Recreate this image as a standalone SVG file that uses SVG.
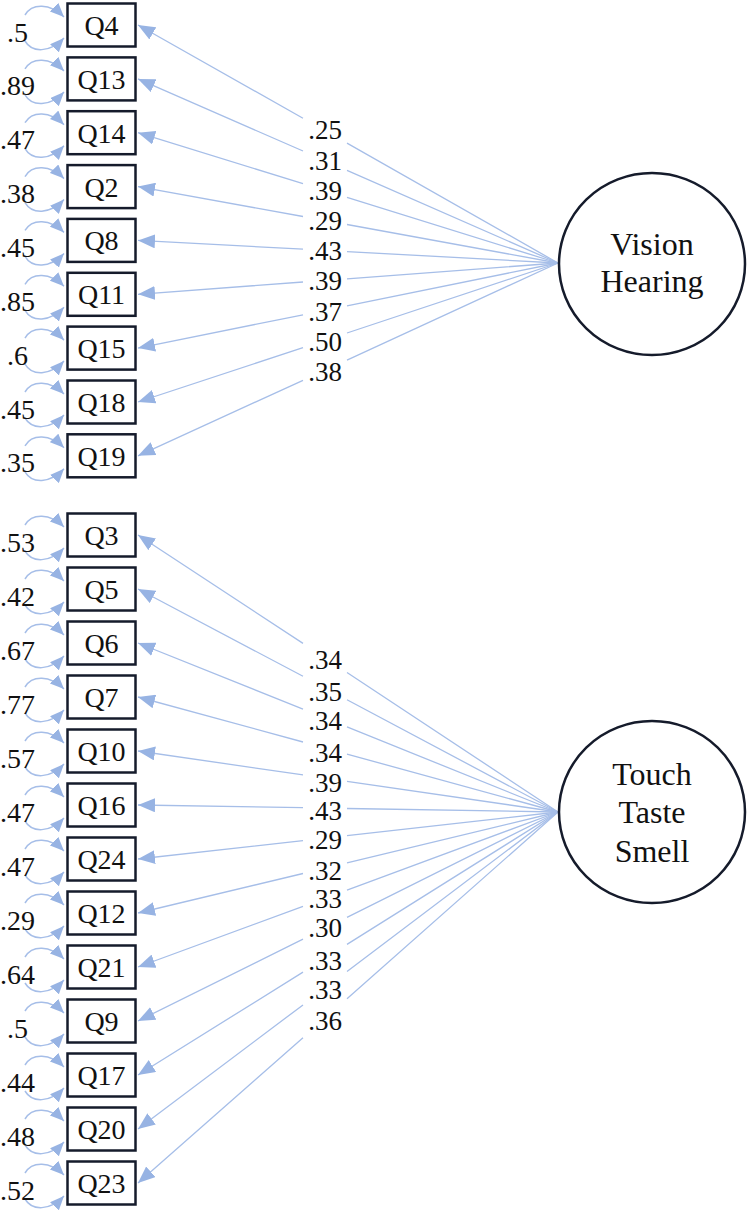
<svg xmlns="http://www.w3.org/2000/svg" width="748" height="1212" viewBox="0 0 748 1212">
<defs>
<marker id="ah" viewBox="0 0 17 14" refX="17" refY="7" markerWidth="17" markerHeight="14" markerUnits="userSpaceOnUse" orient="auto">
<path d="M0,0 L17,7 L0,14 z" fill="#97b3e3"/>
</marker>
<marker id="ahs" viewBox="0 0 14 12" refX="14" refY="6" markerWidth="14" markerHeight="12" markerUnits="userSpaceOnUse" orient="auto">
<path d="M0,0 L14,6 L0,12 z" fill="#97b3e3"/>
</marker>
</defs>
<style>
.box{fill:#fff;stroke:#151b2b;stroke-width:2.5}
.lat{fill:#fff;stroke:#151b2b;stroke-width:2.5}
text{font-family:'Liberation Serif','Times New Roman','DejaVu Serif',serif;fill:#111;text-anchor:middle}
.t{font-size:28px}
.tv{font-size:27px}
.tl{font-size:32px}
.ld{fill:none;stroke:#a6bee8;stroke-width:1.3;marker-end:url(#ah)}
.arc{fill:none;stroke:#a6bee8;stroke-width:1.5;marker-end:url(#ahs)}
</style>
<rect width="748" height="1212" fill="#fff"/>

<g id="connectors">
<path class="ld" d="M558,263 L347,143.1 M303,118.2 L138,25"/>
<path class="ld" d="M558,263 L347,170.3 M303,151 L138,78.9"/>
<path class="ld" d="M558,263 L347,197.4 M303,183.7 L138,132.7"/>
<path class="ld" d="M558,263 L347,224.5 M303,216.5 L138,186.6"/>
<path class="ld" d="M558,263 L347,251.6 M303,249.2 L138,240.4"/>
<path class="ld" d="M558,263 L347,278.8 M303,282 L138,294.3"/>
<path class="ld" d="M558,263 L347,305.9 M303,314.8 L138,348.1"/>
<path class="ld" d="M558,263 L347,333 M303,347.6 L138,402"/>
<path class="ld" d="M558,263 L347,360.1 M303,380.3 L138,455.8"/>
<path class="ld" d="M558,812 L347,672.5 M303,643.4 L138,535"/>
<path class="ld" d="M558,812 L347,699.7 M303,676.3 L138,589"/>
<path class="ld" d="M558,812 L347,726.9 M303,709.1 L138,643"/>
<path class="ld" d="M558,812 L347,754.1 M303,742 L138,697"/>
<path class="ld" d="M558,812 L347,781.3 M303,774.9 L138,751"/>
<path class="ld" d="M558,812 L347,808.5 M303,807.7 L138,805"/>
<path class="ld" d="M558,812 L347,835.7 M303,840.6 L138,859"/>
<path class="ld" d="M558,812 L347,862.9 M303,873.5 L138,913"/>
<path class="ld" d="M558,812 L347,890.1 M303,906.3 L138,967"/>
<path class="ld" d="M558,812 L347,917.3 M303,939.2 L138,1021"/>
<path class="ld" d="M558,812 L347,944.4 M303,972.1 L138,1075"/>
<path class="ld" d="M558,812 L347,971.6 M303,1004.9 L138,1129"/>
<path class="ld" d="M558,812 L347,998.8 M303,1037.8 L138,1183"/>
<path class="arc" d="M25,15 C32,3 50,3 64,17"/><path class="arc" d="M25,41 C32,53 50,53 64,38"/>
<path class="arc" d="M25,68.9 C32,56.9 50,56.9 64,70.9"/><path class="arc" d="M25,94.9 C32,106.9 50,106.9 64,91.9"/>
<path class="arc" d="M25,122.7 C32,110.7 50,110.7 64,124.7"/><path class="arc" d="M25,148.7 C32,160.7 50,160.7 64,145.7"/>
<path class="arc" d="M25,176.6 C32,164.6 50,164.6 64,178.6"/><path class="arc" d="M25,202.6 C32,214.6 50,214.6 64,199.6"/>
<path class="arc" d="M25,230.4 C32,218.4 50,218.4 64,232.4"/><path class="arc" d="M25,256.4 C32,268.4 50,268.4 64,253.4"/>
<path class="arc" d="M25,284.3 C32,272.3 50,272.3 64,286.3"/><path class="arc" d="M25,310.3 C32,322.3 50,322.3 64,307.3"/>
<path class="arc" d="M25,338.1 C32,326.1 50,326.1 64,340.1"/><path class="arc" d="M25,364.1 C32,376.1 50,376.1 64,361.1"/>
<path class="arc" d="M25,392 C32,380 50,380 64,394"/><path class="arc" d="M25,418 C32,430 50,430 64,415"/>
<path class="arc" d="M25,445.8 C32,433.8 50,433.8 64,447.8"/><path class="arc" d="M25,471.8 C32,483.8 50,483.8 64,468.8"/>
<path class="arc" d="M25,525 C32,513 50,513 64,527"/><path class="arc" d="M25,551 C32,563 50,563 64,548"/>
<path class="arc" d="M25,579 C32,567 50,567 64,581"/><path class="arc" d="M25,605 C32,617 50,617 64,602"/>
<path class="arc" d="M25,633 C32,621 50,621 64,635"/><path class="arc" d="M25,659 C32,671 50,671 64,656"/>
<path class="arc" d="M25,687 C32,675 50,675 64,689"/><path class="arc" d="M25,713 C32,725 50,725 64,710"/>
<path class="arc" d="M25,741 C32,729 50,729 64,743"/><path class="arc" d="M25,767 C32,779 50,779 64,764"/>
<path class="arc" d="M25,795 C32,783 50,783 64,797"/><path class="arc" d="M25,821 C32,833 50,833 64,818"/>
<path class="arc" d="M25,849 C32,837 50,837 64,851"/><path class="arc" d="M25,875 C32,887 50,887 64,872"/>
<path class="arc" d="M25,903 C32,891 50,891 64,905"/><path class="arc" d="M25,929 C32,941 50,941 64,926"/>
<path class="arc" d="M25,957 C32,945 50,945 64,959"/><path class="arc" d="M25,983 C32,995 50,995 64,980"/>
<path class="arc" d="M25,1011 C32,999 50,999 64,1013"/><path class="arc" d="M25,1037 C32,1049 50,1049 64,1034"/>
<path class="arc" d="M25,1065 C32,1053 50,1053 64,1067"/><path class="arc" d="M25,1091 C32,1103 50,1103 64,1088"/>
<path class="arc" d="M25,1119 C32,1107 50,1107 64,1121"/><path class="arc" d="M25,1145 C32,1157 50,1157 64,1142"/>
<path class="arc" d="M25,1173 C32,1161 50,1161 64,1175"/><path class="arc" d="M25,1199 C32,1211 50,1211 64,1196"/>
</g>

<g id="loading-labels">
<text class="tv" x="325" y="139">.25</text>
<text class="tv" x="325" y="170">.31</text>
<text class="tv" x="325" y="200">.39</text>
<text class="tv" x="325" y="230">.29</text>
<text class="tv" x="325" y="260">.43</text>
<text class="tv" x="325" y="290">.39</text>
<text class="tv" x="325" y="321">.37</text>
<text class="tv" x="325" y="351">.50</text>
<text class="tv" x="325" y="381">.38</text>
<text class="tv" x="325" y="669">.34</text>
<text class="tv" x="325" y="701">.35</text>
<text class="tv" x="325" y="730">.34</text>
<text class="tv" x="325" y="762">.34</text>
<text class="tv" x="325" y="792">.39</text>
<text class="tv" x="325" y="820">.43</text>
<text class="tv" x="325" y="849">.29</text>
<text class="tv" x="325" y="880">.32</text>
<text class="tv" x="325" y="908">.33</text>
<text class="tv" x="325" y="937">.30</text>
<text class="tv" x="325" y="970">.33</text>
<text class="tv" x="325" y="999">.33</text>
<text class="tv" x="325" y="1030">.36</text>
</g>

<g id="VisionHearing"><ellipse class="lat" cx="652" cy="264" rx="93" ry="91"/><text class="tl" x="652" y="255">Vision</text><text class="tl" x="652" y="292">Hearing</text></g>
<g id="TouchTasteSmell"><ellipse class="lat" cx="652" cy="812" rx="93" ry="91"/><text class="tl" x="652" y="785">Touch</text><text class="tl" x="652" y="823">Taste</text><text class="tl" x="652" y="862">Smell</text></g>

<g id="Q4"><rect class="box" x="67.5" y="3.5" width="68" height="43"/><text class="t" x="101.5" y="35">Q4</text><text class="t" x="17.5" y="41.5">.5</text></g>
<g id="Q13"><rect class="box" x="67.5" y="57.4" width="68" height="43"/><text class="t" x="101.5" y="88.9">Q13</text><text class="t" x="17.5" y="95.4">.89</text></g>
<g id="Q14"><rect class="box" x="67.5" y="111.2" width="68" height="43"/><text class="t" x="101.5" y="142.7">Q14</text><text class="t" x="17.5" y="149.2">.47</text></g>
<g id="Q2"><rect class="box" x="67.5" y="165.1" width="68" height="43"/><text class="t" x="101.5" y="196.6">Q2</text><text class="t" x="17.5" y="203.1">.38</text></g>
<g id="Q8"><rect class="box" x="67.5" y="218.9" width="68" height="43"/><text class="t" x="101.5" y="250.4">Q8</text><text class="t" x="17.5" y="256.9">.45</text></g>
<g id="Q11"><rect class="box" x="67.5" y="272.8" width="68" height="43"/><text class="t" x="101.5" y="304.3">Q11</text><text class="t" x="17.5" y="310.8">.85</text></g>
<g id="Q15"><rect class="box" x="67.5" y="326.6" width="68" height="43"/><text class="t" x="101.5" y="358.1">Q15</text><text class="t" x="17.5" y="364.6">.6</text></g>
<g id="Q18"><rect class="box" x="67.5" y="380.5" width="68" height="43"/><text class="t" x="101.5" y="412">Q18</text><text class="t" x="17.5" y="418.5">.45</text></g>
<g id="Q19"><rect class="box" x="67.5" y="434.3" width="68" height="43"/><text class="t" x="101.5" y="465.8">Q19</text><text class="t" x="17.5" y="472.3">.35</text></g>

<g id="Q3"><rect class="box" x="67.5" y="513.5" width="68" height="43"/><text class="t" x="101.5" y="545">Q3</text><text class="t" x="17.5" y="551.5">.53</text></g>
<g id="Q5"><rect class="box" x="67.5" y="567.5" width="68" height="43"/><text class="t" x="101.5" y="599">Q5</text><text class="t" x="17.5" y="605.5">.42</text></g>
<g id="Q6"><rect class="box" x="67.5" y="621.5" width="68" height="43"/><text class="t" x="101.5" y="653">Q6</text><text class="t" x="17.5" y="659.5">.67</text></g>
<g id="Q7"><rect class="box" x="67.5" y="675.5" width="68" height="43"/><text class="t" x="101.5" y="707">Q7</text><text class="t" x="17.5" y="713.5">.77</text></g>
<g id="Q10"><rect class="box" x="67.5" y="729.5" width="68" height="43"/><text class="t" x="101.5" y="761">Q10</text><text class="t" x="17.5" y="767.5">.57</text></g>
<g id="Q16"><rect class="box" x="67.5" y="783.5" width="68" height="43"/><text class="t" x="101.5" y="815">Q16</text><text class="t" x="17.5" y="821.5">.47</text></g>
<g id="Q24"><rect class="box" x="67.5" y="837.5" width="68" height="43"/><text class="t" x="101.5" y="869">Q24</text><text class="t" x="17.5" y="875.5">.47</text></g>
<g id="Q12"><rect class="box" x="67.5" y="891.5" width="68" height="43"/><text class="t" x="101.5" y="923">Q12</text><text class="t" x="17.5" y="929.5">.29</text></g>
<g id="Q21"><rect class="box" x="67.5" y="945.5" width="68" height="43"/><text class="t" x="101.5" y="977">Q21</text><text class="t" x="17.5" y="983.5">.64</text></g>
<g id="Q9"><rect class="box" x="67.5" y="999.5" width="68" height="43"/><text class="t" x="101.5" y="1031">Q9</text><text class="t" x="17.5" y="1037.5">.5</text></g>
<g id="Q17"><rect class="box" x="67.5" y="1053.5" width="68" height="43"/><text class="t" x="101.5" y="1085">Q17</text><text class="t" x="17.5" y="1091.5">.44</text></g>
<g id="Q20"><rect class="box" x="67.5" y="1107.5" width="68" height="43"/><text class="t" x="101.5" y="1139">Q20</text><text class="t" x="17.5" y="1145.5">.48</text></g>
<g id="Q23"><rect class="box" x="67.5" y="1161.5" width="68" height="43"/><text class="t" x="101.5" y="1193">Q23</text><text class="t" x="17.5" y="1199.5">.52</text></g>
</svg>
